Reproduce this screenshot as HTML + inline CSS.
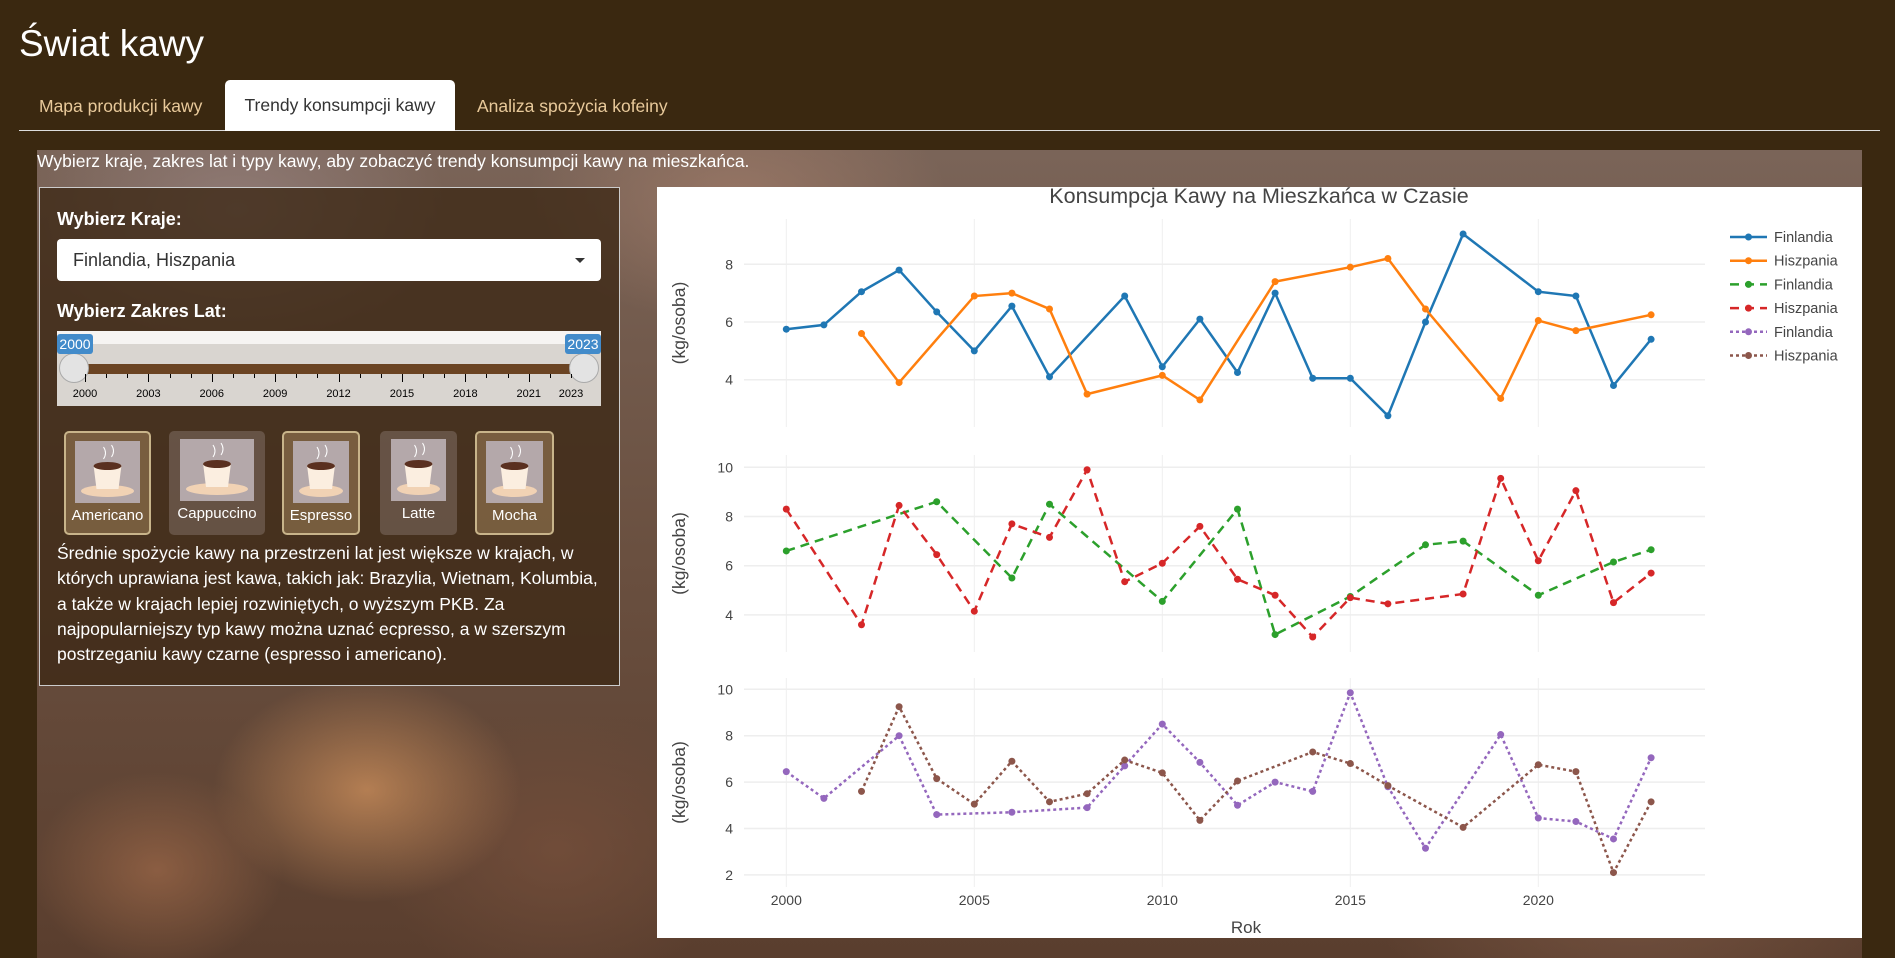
<!DOCTYPE html>
<html><head><meta charset="utf-8">
<style>
*{box-sizing:border-box;margin:0;padding:0}
body{width:1895px;height:958px;overflow:hidden;background:#3a2810;font-family:"Liberation Sans",sans-serif;position:relative}
.abs{position:absolute}
#photo{left:37px;top:150px;width:1825px;height:808px;
background:
radial-gradient(ellipse 220px 160px at 330px 640px,rgba(200,140,90,.8),transparent 70%),
radial-gradient(ellipse 180px 140px at 120px 720px,rgba(150,100,70,.8),transparent 70%),
radial-gradient(ellipse 260px 200px at 520px 700px,rgba(120,80,60,.7),transparent 70%),
radial-gradient(ellipse 300px 200px at 200px 60px,rgba(160,140,140,.6),transparent 70%),
radial-gradient(ellipse 300px 180px at 700px 50px,rgba(170,130,110,.6),transparent 70%),
radial-gradient(ellipse 400px 300px at 1600px 700px,rgba(140,100,80,.6),transparent 70%),
linear-gradient(180deg,#7a6458,#6a5040 50%,#5a3e2e);}
.tab{position:absolute;top:81px;height:50px;line-height:50px;font-size:17.5px;color:#e8c99a}
</style></head><body>
<div class="abs" id="photo"></div>
<div class="abs" style="left:19px;top:23px;font-size:37px;color:#fff">Świat kawy</div>
<div class="abs" style="left:19px;top:130px;width:1861px;height:1px;background:#ddd"></div>
<div class="tab" style="left:39px">Mapa produkcji kawy</div>
<div class="abs" style="left:225px;top:80px;width:230px;height:51px;background:#fff;border-radius:5px 5px 0 0;color:#333;font-size:17.5px;line-height:50px;text-align:center">Trendy konsumpcji kawy</div>
<div class="tab" style="left:477px">Analiza spożycia kofeiny</div>
<div class="abs" style="left:37px;top:151px;font-size:17.5px;color:#fff">Wybierz kraje, zakres lat i typy kawy, aby zobaczyć trendy konsumpcji kawy na mieszkańca.</div>

<div class="abs" style="left:39px;top:187px;width:581px;height:499px;background:rgba(60,40,20,.78);border:1px solid #ccc"></div>
<div class="abs" style="left:57px;top:209px;font-size:18px;font-weight:bold;color:#fff">Wybierz Kraje:</div>
<div class="abs" style="left:57px;top:239px;width:544px;height:42px;background:#fff;border-radius:4px;font-size:18px;color:#333;line-height:42px;padding-left:16px">Finlandia, Hiszpania
<span style="position:absolute;right:16px;top:19px;border-left:5px solid transparent;border-right:5px solid transparent;border-top:5px solid #333"></span></div>
<div class="abs" style="left:57px;top:301px;font-size:18px;font-weight:bold;color:#fff">Wybierz Zakres Lat:</div>
<div class="abs" style="left:57px;top:331px;width:544px;height:75px;background:#d9d5d0;border-top:13px solid #f6f4f2">
 <div class="abs" style="left:28px;top:20px;width:486px;height:10px;background:#6b4423"></div>
 <div class="abs" style="left:2px;top:9px;width:30px;height:30px;border-radius:50%;background:#e3e3e3;border:1px solid #aaa"></div>
 <div class="abs" style="left:512px;top:9px;width:30px;height:30px;border-radius:50%;background:#e3e3e3;border:1px solid #aaa"></div>
 <div class="abs" style="left:0;top:-10px;width:36px;height:20px;background:#428bca;color:#fff;font-size:14px;text-align:center;line-height:20px;border-radius:3px">2000</div>
 <div class="abs" style="left:508px;top:-10px;width:36px;height:20px;background:#428bca;color:#fff;font-size:14px;text-align:center;line-height:20px;border-radius:3px">2023</div>
 <div id="sticks"></div>
</div>
<div id="buttons"></div>
<div class="abs" style="left:57px;top:541px;width:545px;font-size:17.5px;line-height:25.3px;color:#fff">Średnie spożycie kawy na przestrzeni lat jest większe w krajach, w których uprawiana jest kawa, takich jak: Brazylia, Wietnam, Kolumbia, a także w krajach lepiej rozwiniętych, o wyższym PKB. Za najpopularniejszy typ kawy można uznać ecpresso, a w szerszym postrzeganiu kawy czarne (espresso i americano).</div>

<svg class="abs" id="chart" style="left:657px;top:187px" width="1205" height="751" font-family="Liberation Sans, sans-serif"></svg>

<script>
const st=document.getElementById('sticks');
for(let i=0;i<=23;i++){const x=28+i*486/23;const d=document.createElement('div');
d.className='abs';d.style.cssText=`left:${x}px;top:30px;width:1px;height:${i%3==0?8:4}px;background:#000`;st.appendChild(d);
if(i%3==0||i==23){const t=document.createElement('div');t.className='abs';t.style.cssText=`left:${x-16}px;top:44px;width:32px;text-align:center;font-size:11px;color:#000`;t.textContent=2000+i;st.appendChild(t);}}
const bts=[["Americano",64,151,1],["Cappuccino",169,265,0],["Espresso",282,360,1],["Latte",380,457,0],["Mocha",475,554,1]];
const bc=document.getElementById('buttons');
bts.forEach(b=>{const d=document.createElement('div');


d.className='abs';d.style.cssText=`left:${b[1]}px;top:431px;width:${b[2]-b[1]}px;height:104px;border-radius:5px;background:${b[3]?'rgba(160,130,90,.55)':'rgba(140,125,115,.45)'};border:${b[3]?'2px solid #c8b48a':'none'};color:#fff;font-size:15px;text-align:center`;
const w=b[2]-b[1]-22;
d.innerHTML=`<div style="margin:8px auto 0;width:${w}px;height:62px;background:#b4a8aa;position:relative"><svg width="${w}" height="62"><ellipse cx="${w/2}" cy="50" rx="${w/2-6}" ry="6" fill="#f1d2b4"/><path d="M${w/2-14} 24 h28 l-3 24 h-22z" fill="#fbeee0"/><ellipse cx="${w/2}" cy="25" rx="14" ry="4" fill="#5a3020"/><path d="M${w/2-4} 6 q4 6 0 12 M${w/2+4} 4 q4 6 0 12" stroke="#fff" fill="none"/></svg></div><div style="margin-top:4px">${b[0]}</div>`;
bc.appendChild(d);});

// ===== chart data =====
const years=[2000,2001,2002,2003,2004,2005,2006,2007,2008,2009,2010,2011,2012,2013,2014,2015,2016,2017,2018,2019,2020,2021,2022,2023];
const finAmericano=[5.75,5.9,7.05,7.8,6.35,5.0,6.55,4.1,null,6.9,4.45,6.1,4.25,7.0,4.05,4.05,2.75,6.0,9.05,null,7.05,6.9,3.8,5.4];
const hisAmericano=[null,null,5.6,3.9,null,6.9,7.0,6.45,3.5,null,4.15,3.3,null,7.4,null,7.9,8.2,6.45,null,3.35,6.05,5.7,null,6.25];
const finEspresso=[6.6,null,null,null,8.6,null,5.5,8.5,null,null,4.55,null,8.3,3.2,null,4.75,null,6.85,7.0,null,4.8,null,6.15,6.65];
const hisEspresso=[8.3,null,3.6,8.45,6.45,4.15,7.7,7.15,9.9,5.35,6.1,7.6,5.45,4.8,3.1,4.7,4.45,null,4.85,9.55,6.2,9.05,4.5,5.7];
const finMocha=[6.45,5.3,null,8.0,4.6,null,4.7,null,4.9,6.7,8.5,6.85,5.0,6.0,5.6,9.85,5.8,3.15,null,8.05,4.45,4.3,3.55,7.05];
const hisMocha=[null,null,5.6,9.25,6.15,5.05,6.9,5.15,5.5,6.95,6.4,4.35,6.05,null,7.3,6.8,5.85,null,4.05,null,6.75,6.45,2.1,5.15];
const xTicks=[2000,2005,2010,2015,2020];
const yTicks1=[4,6,8], yTicks2=[4,6,8,10], yTicks3=[2,4,6,8,10];

const svg=document.getElementById('chart');const NS='http://www.w3.org/2000/svg';
function mk(t,a,p){const e=document.createElementNS(NS,t);for(const k in a)e.setAttribute(k,a[k]);(p||svg).appendChild(e);return e;}
mk('rect',{x:0,y:0,width:1205,height:751,fill:'#fff'});
const X=yr=>129.3+(yr-2000)*37.6;
const panels=[
 {y0:77.3,v0:8,k:28.85,top:32,bot:240,ticks:yTicks1,series:[[finAmericano,'#1f77b4',null,'Finlandia'],[hisAmericano,'#ff7f0e',null,'Hiszpania']]},
 {y0:280.3,v0:10,k:24.6,top:268,bot:465,ticks:yTicks2,series:[[finEspresso,'#2ca02c','9,6','Finlandia'],[hisEspresso,'#d62728','9,6','Hiszpania']]},
 {y0:502.3,v0:10,k:23.2,top:491,bot:700,ticks:yTicks3,series:[[finMocha,'#9467bd','3,3','Finlandia'],[hisMocha,'#8c564b','3,3','Hiszpania']]}];
let li=0;
panels.forEach((p,pi)=>{
 const Y=v=>p.y0+(p.v0-v)*p.k;
 xTicks.forEach(t=>{const g=mk('line',{x1:X(t),x2:X(t),y1:p.top,y2:p.bot,stroke:'#eee','stroke-width':1});
  
  });
 p.ticks.forEach(t=>{const g=mk('line',{x1:87,x2:1048,y1:Y(t),y2:Y(t),stroke:'#eee','stroke-width':1.5});
  
  
  const tx=mk('text',{x:76,y:Y(t)+5,'text-anchor':'end','font-size':14,fill:'#444'});tx.textContent=t;
  
  });
 const yt=mk('text',{x:0,y:0,transform:`translate(28,${(p.top+p.bot)/2}) rotate(-90)`,'text-anchor':'middle','font-size':17.5,fill:'#444'});
 yt.textContent='(kg/osoba)';
 
 
 p.series.forEach(s=>{
  const pts=[];s[0].forEach((v,i)=>{if(v!==null)pts.push([X(years[i]),Y(v)]);});
  const pl=mk('polyline',{points:pts.map(q=>q.join(',')).join(' '),fill:'none',stroke:s[1],'stroke-width':2.5,'stroke-dasharray':s[2]||'none'});
  
  
  pts.forEach(q=>{const c=mk('circle',{cx:q[0],cy:q[1],r:3.5,fill:s[1]});
   
   });
  const ly=50+li*23.7;
  const ll=mk('line',{x1:1073,x2:1110,y1:ly,y2:ly,stroke:s[1],'stroke-width':2.5,'stroke-dasharray':s[2]||'none'});
  
  
  mk('circle',{cx:1091.5,cy:ly,r:3.5,fill:s[1]});
  const lt=mk('text',{x:1117,y:ly+5,'font-size':14.5,fill:'#444'});lt.textContent=s[3];
  
  
  li++;
 });
});
xTicks.forEach(t=>{const tx=mk('text',{x:X(t),y:718,'text-anchor':'middle','font-size':14,fill:'#444'});tx.textContent=t;
 
 });
const xt=mk('text',{x:589,y:746,'text-anchor':'middle','font-size':17,fill:'#444'});xt.textContent='Rok';


const tt=mk('text',{x:602,y:16,'text-anchor':'middle','font-size':21.5,fill:'#444'});tt.textContent='Konsumpcja Kawy na Mieszkańca w Czasie';


</script>
</body></html>
